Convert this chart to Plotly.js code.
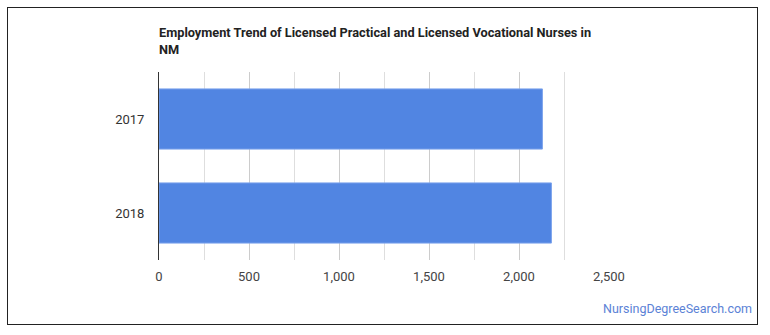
<!DOCTYPE html>
<html>
<head>
<meta charset="utf-8">
<script src="https://cdn.plot.ly/plotly-3.0.1.min.js"></script>
<style>
html,body{margin:0;padding:0;background:#fff;}
#wrap{position:relative;width:770px;height:335px;}
#chart{width:770px;height:335px;}
#frame{position:absolute;left:7px;top:7px;width:749px;height:316px;border:1.5px solid #222;pointer-events:none;}
</style>
</head>
<body>
<div id="wrap"><div id="chart"></div><div id="frame"></div></div>
<script>
const categories = ["2017", "2018"];
const employment = [2130, 2180];
const tickValues = [0, 500, 1000, 1500, 2000, 2500];
const tickLabels = ["0", "500", "1,000", "1,500", "2,000", "2,500"];
const chartTitle = "Employment Trend of Licensed Practical and Licensed Vocational Nurses in<br>NM";
const watermark = "NursingDegreeSearch.com";

const W = 770, H = 335;
const L = 159, R = 770 - 609, T = 72, B = 335 - 260;

const trace = {
  type: "bar",
  orientation: "h",
  y: categories,
  x: employment,
  marker: {color: "#5185e2", line: {color: "#7aa3ec", width: 1}},
  hoverinfo: "none"
};

const layout = {
  width: W, height: H,
  margin: {l: L, r: R, t: T, b: B, pad: 0},
  paper_bgcolor: "#fff",
  plot_bgcolor: "#fff",
  font: {family: "Roboto, 'Liberation Sans', sans-serif", color: "#333", size: 13},
  showlegend: false,
  bargap: 0.36,
  title: {
    text: "<b>" + chartTitle + "</b>",
    font: {family: "Roboto, sans-serif", size: 12.75, color: "#222"},
    x: L / W, xanchor: "left", xref: "container",
    y: 1 - 37 / H, yanchor: "top", yref: "container"
  },
  xaxis: {
    range: [0, 2500],
    tickvals: tickValues,
    ticktext: tickLabels,
    ticks: "",
    showgrid: true,
    gridcolor: "#cccccc",
    gridwidth: 1,
    minor: {dtick: 250, showgrid: true, gridcolor: "#dedede", gridwidth: 1, ticks: ""},
    zeroline: false,
    showline: false,
    tickfont: {size: 13, color: "#444"},
    ticklabelstandoff: 7,
    fixedrange: true
  },
  yaxis: {
    type: "category",
    categoryorder: "array",
    categoryarray: categories,
    autorange: "reversed",
    showgrid: false,
    zeroline: false,
    showline: true,
    linecolor: "#333",
    linewidth: 1,
    ticks: "",
    tickfont: {size: 13, color: "#333"},
    ticklabelstandoff: 11,
    fixedrange: true
  },
  annotations: [{
    text: watermark,
    xref: "paper", yref: "paper",
    x: (754 - L) / (W - L - R), xanchor: "right",
    y: -(318 - 260) / (260 - 72), yanchor: "bottom",
    showarrow: false,
    font: {family: "Roboto, sans-serif", size: 12.5, color: "#5b82d6"}
  }]
};

Plotly.newPlot("chart", [trace], layout, {staticPlot: true, displayModeBar: false});
</script>
</body>
</html>
